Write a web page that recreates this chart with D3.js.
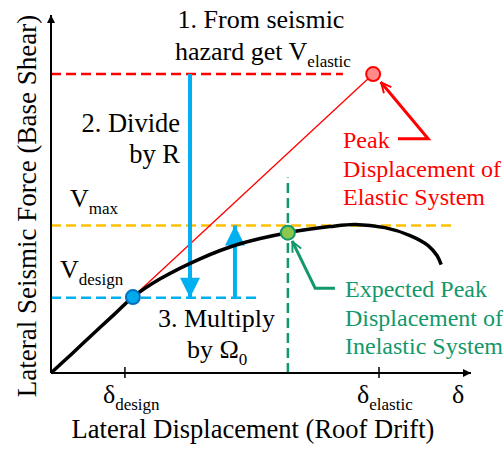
<!DOCTYPE html>
<html>
<head>
<meta charset="utf-8">
<script src="https://cdn.jsdelivr.net/npm/d3@7"></script>
<style>
  body { margin: 0; background: #fff; }
  text { font-family: "Liberation Serif", "Times New Roman", Times, "DejaVu Serif", serif; }
</style>
</head>
<body>
<svg width="504" height="449"></svg>
<script>
// pushover curve (displacement, force) in arbitrary units 0..100
const curveDisp  = [0, 5, 10, 15, 19.5, 26, 35.5, 45, 56.4, 66.4, 72.4, 79.5, 85.5, 89.8, 91.9, 92.9]
const curveForce = [0, 5.4, 10.9, 16.3, 21.2, 26.3, 31.9, 36.1, 39.2, 40.9, 41.5, 40.6, 38.4, 35.6, 32.8, 30.3]

// force levels
const levelNames  = ['elastic', 'max', 'design']
const levelValues = [83.5, 41.2, 21]
const levelEnds   = [69.5, 96.2, 49.3]
const levelColors = ['#ff0000', '#ffc000', '#00b0f0']

// displacement ticks
const tickValues = [17.6, 78.1]
const tickLabels = ['design', 'elastic']

// key points
const elasticPeak   = [76.7, 83.5]
const designPoint   = [19.5, 21.2]
const inelasticPeak = [56.4, 39.2]

const svg = d3.select('svg')
const x = d3.scaleLinear([0, 100], [51, 471])
const y = d3.scaleLinear([0, 100], [373, 15])

const defs = svg.append('defs')
function marker(id, color, w, h, filled) {
    const m = defs.append('marker').attr('id', id)
        .attr('viewBox', '0 0 10 10').attr('refX', 10).attr('refY', 5)
        .attr('markerWidth', w).attr('markerHeight', h)
        .attr('markerUnits', 'userSpaceOnUse').attr('orient', 'auto')
    if (filled) {
        m.append('path').attr('d', 'M0,0L10,5L0,10Z').attr('fill', color)
    } else {
        m.append('path').attr('d', 'M1,1L9.5,5L1,9').attr('fill', 'none')
            .attr('stroke', color).attr('stroke-width', 1.6)
    }
}
marker('axisArrow', '#000', 10, 8, true)
marker('blueArrow', '#00b0f0', 22, 20, true)
marker('redArrow', '#ff0000', 12, 12, false)
marker('greenArrow', '#13986a', 12, 12, false)

// dashed levels
svg.append('g').selectAll('line')
    .data(levelValues)
    .join('line')
    .attr('x1', x(0))
    .attr('x2', (d, i) => x(levelEnds[i]))
    .attr('y1', d => y(d))
    .attr('y2', d => y(d))
    .attr('stroke', (d, i) => levelColors[i])
    .attr('stroke-width', 2.5)
    .attr('stroke-dasharray', '10,5')

// green vertical dashed line
svg.append('line')
    .attr('x1', x(inelasticPeak[0])).attr('x2', x(inelasticPeak[0]))
    .attr('y1', y(0)).attr('y2', y(54.6))
    .attr('stroke', '#13986a').attr('stroke-width', 2.5)
    .attr('stroke-dasharray', '10,5')

// elastic line
svg.append('line')
    .attr('x1', x(0)).attr('y1', y(0))
    .attr('x2', x(elasticPeak[0])).attr('y2', y(elasticPeak[1]))
    .attr('stroke', '#ff0000').attr('stroke-width', 1.3)

// blue arrows (divide by R, multiply by omega)
svg.append('line')
    .attr('x1', x(33.1)).attr('x2', x(33.1))
    .attr('y1', y(levelValues[0])).attr('y2', y(levelValues[2]))
    .attr('stroke', '#00b0f0').attr('stroke-width', 4)
    .attr('marker-end', 'url(#blueArrow)')
svg.append('line')
    .attr('x1', x(43.8)).attr('x2', x(43.8))
    .attr('y1', y(levelValues[2])).attr('y2', y(levelValues[1]))
    .attr('stroke', '#00b0f0').attr('stroke-width', 4)
    .attr('marker-end', 'url(#blueArrow)')

// pushover curve
const curve = curveDisp.map((d, i) => [d, curveForce[i]])
svg.append('path')
    .datum(curve)
    .attr('d', d3.line().x(d => x(d[0])).y(d => y(d[1])).curve(d3.curveCatmullRom))
    .attr('fill', 'none')
    .attr('stroke', '#000')
    .attr('stroke-width', 3.5)

// axes
svg.append('line')
    .attr('x1', x(0)).attr('y1', y(0)).attr('x2', x(0)).attr('y2', y(100))
    .attr('stroke', '#000').attr('stroke-width', 2)
    .attr('marker-end', 'url(#axisArrow)')
svg.append('line')
    .attr('x1', x(0)).attr('y1', y(0)).attr('x2', x(100)).attr('y2', y(0))
    .attr('stroke', '#000').attr('stroke-width', 2)
    .attr('marker-end', 'url(#axisArrow)')
svg.append('g').selectAll('line')
    .data(tickValues)
    .join('line')
    .attr('x1', d => x(d)).attr('x2', d => x(d))
    .attr('y1', y(0) - 6).attr('y2', y(0) + 5)
    .attr('stroke', '#000').attr('stroke-width', 1.5)

// callout arrows
svg.append('polyline')
    .attr('points', [[82.6, 65.4], [89.8, 65.4], [78.5, 81.3]].map(p => [x(p[0]), y(p[1])]).join(' '))
    .attr('fill', 'none').attr('stroke', '#ff0000').attr('stroke-width', 3)
    .attr('marker-end', 'url(#redArrow)')
svg.append('polyline')
    .attr('points', [[67.6, 23.7], [62.9, 23.7], [57.4, 36.9]].map(p => [x(p[0]), y(p[1])]).join(' '))
    .attr('fill', 'none').attr('stroke', '#13986a').attr('stroke-width', 3)
    .attr('marker-end', 'url(#greenArrow)')

// points
svg.append('circle')
    .attr('cx', x(elasticPeak[0])).attr('cy', y(elasticPeak[1])).attr('r', 7)
    .attr('fill', '#ff8a8a').attr('stroke', '#ff0000').attr('stroke-width', 2)
svg.append('circle')
    .attr('cx', x(designPoint[0])).attr('cy', y(designPoint[1])).attr('r', 7)
    .attr('fill', '#00a8ec').attr('stroke', '#0070c0').attr('stroke-width', 2)
svg.append('circle')
    .attr('cx', x(inelasticPeak[0])).attr('cy', y(inelasticPeak[1])).attr('r', 7)
    .attr('fill', '#8cc84b').attr('stroke', '#13986a').attr('stroke-width', 2)

// text helpers
function sub(g, px, py, main, subText, size, subSize, anchor, color) {
    const t = g.append('text').attr('x', px).attr('y', py)
        .attr('font-size', size).attr('text-anchor', anchor || 'start')
        .attr('fill', color || '#000')
    t.append('tspan').text(main)
    t.append('tspan').text(subText).attr('font-size', subSize).attr('dy', 7)
    return t
}
function lines(px, py, arr, size, color, anchor, lh) {
    svg.append('g').selectAll('text')
        .data(arr)
        .join('text')
        .attr('x', px)
        .attr('y', (d, i) => py + i * lh)
        .attr('font-size', size)
        .attr('fill', color)
        .attr('text-anchor', anchor)
        .text(d => d)
}

// step texts
lines(261, 28, ['1. From seismic'], 26, '#000', 'middle', 0)
sub(svg, 175, 60, 'hazard get V', 'elastic', 26, 17, 'start')
lines(180, 132, ['2. Divide', 'by R'], 26.5, '#000', 'end', 31)
lines(158, 327, ['3. Multiply'], 26, '#000', 'start', 0)
sub(svg, 187, 358, 'by Ω', '0', 26, 17, 'start')

// level labels
sub(svg, 70, 207, 'V', 'max', 26, 17, 'start')
sub(svg, 60, 278, 'V', 'design', 26, 17, 'start')

// callout texts
lines(343, 148, ['Peak', 'Displacement of', 'Elastic System'], 24, '#ff0000', 'start', 28.5)
lines(345, 297, ['Expected Peak', 'Displacement of', 'Inelastic System'], 24, '#13986a', 'start', 28.5)

// displacement tick labels
tickValues.forEach((d, i) => {
    sub(svg, x(d) - 22, 403, 'δ', tickLabels[i], 26, 17, 'start')
})
svg.append('text').attr('x', 452).attr('y', 403).attr('font-size', 26).text('δ')

// axis titles
svg.append('text')
    .attr('x', 253).attr('y', 438)
    .attr('text-anchor', 'middle').attr('font-size', 26.5)
    .text('Lateral Displacement (Roof Drift)')
svg.append('text')
    .attr('transform', 'translate(36, 206) rotate(-90)')
    .attr('text-anchor', 'middle').attr('font-size', 27)
    .text('Lateral Seismic Force (Base Shear)')
</script>
</body>
</html>
